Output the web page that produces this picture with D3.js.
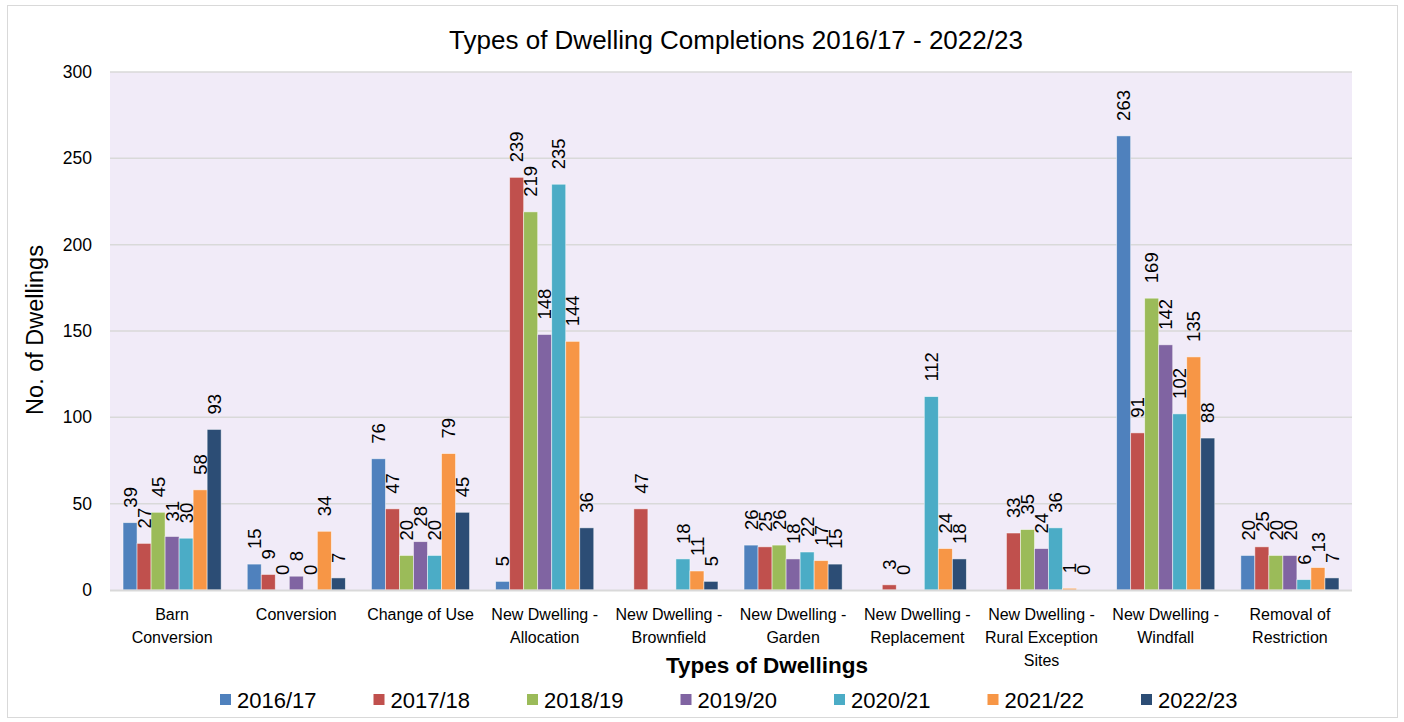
<!DOCTYPE html>
<html>
<head>
<meta charset="utf-8">
<script src="https://cdn.jsdelivr.net/npm/d3@7"></script>
<style>
  body { margin: 0; background: #fff; }
  svg { font-family: "Liberation Sans", Arial, sans-serif; }
</style>
</head>
<body>
<svg id="chart" width="1404" height="722"></svg>
<script>
// chart data
const categories = [
    "Barn Conversion", "Conversion", "Change of Use", "New Dwelling - Allocation",
    "New Dwelling - Brownfield", "New Dwelling - Garden", "New Dwelling - Replacement",
    "New Dwelling - Rural Exception Sites", "New Dwelling - Windfall", "Removal of Restriction"
];
const seriesNames = ["2016/17", "2017/18", "2018/19", "2019/20", "2020/21", "2021/22", "2022/23"];
const seriesColors = ["#4F81BD", "#C0504D", "#9BBB59", "#8064A2", "#4BACC6", "#F79646", "#2C4D75"];

// null = no bar and no label in the original
const v2016 = [39, 15, 76, 5, null, 26, null, null, 263, 20];
const v2017 = [27, 9, 47, 239, 47, 25, 3, 33, 91, 25];
const v2018 = [45, 0, 20, 219, null, 26, 0, 35, 169, 20];
const v2019 = [31, 8, 28, 148, null, 18, null, 24, 142, 20];
const v2020 = [30, 0, 20, 235, 18, 22, 112, 36, 102, 6];
const v2021 = [58, 34, 79, 144, 11, 17, 24, 1, 135, 13];
const v2022 = [93, 7, 45, 36, 5, 15, 18, 0, 88, 7];
const seriesValues = [v2016, v2017, v2018, v2019, v2020, v2021, v2022];

const yTicks = [0, 50, 100, 150, 200, 250, 300];

const svg = d3.select("#chart");

// outer border
svg.append("rect")
    .attr("x", 7.5).attr("y", 5.5)
    .attr("width", 1390).attr("height", 712)
    .attr("fill", "#fff")
    .attr("stroke", "#d9d9d9");

const plot = { left: 110, right: 1352, top: 72, bottom: 590 };

const x0 = d3.scaleBand()
    .domain(categories)
    .range([plot.left, plot.right])
    .padding(0);

const x1 = d3.scaleBand()
    .domain(seriesNames)
    .range([0, x0.bandwidth()])
    .paddingInner(0)
    .paddingOuter(0.93);

const y = d3.scaleLinear()
    .domain([0, 300])
    .range([plot.bottom, plot.top]);

// plot background
svg.append("rect")
    .attr("x", plot.left).attr("y", plot.top)
    .attr("width", plot.right - plot.left)
    .attr("height", plot.bottom - plot.top)
    .attr("fill", "#F1EBF8");

// gridlines
svg.append("g")
    .selectAll("line")
    .data(yTicks.filter(d => d > 0))
    .join("line")
    .attr("x1", plot.left).attr("x2", plot.right)
    .attr("y1", d => y(d)).attr("y2", d => y(d))
    .attr("stroke", "#d9d9d9")
    .attr("stroke-width", 1.5);

// y axis tick labels
const yAxis = svg.append("g")
    .attr("transform", `translate(${plot.left - 18},0)`)
    .call(d3.axisLeft(y).tickValues(yTicks).tickSize(0).tickPadding(0));
yAxis.select(".domain").remove();
yAxis.selectAll("text")
    .attr("font-size", 17.5)
    .attr("font-family", "Liberation Sans, Arial, sans-serif")
    .attr("fill", "#000");

// bars
const rows = [];
categories.forEach((c, i) => {
    seriesNames.forEach((s, j) => {
        const v = seriesValues[j][i];
        if (v !== null) rows.push({ cat: c, series: s, value: v, color: seriesColors[j] });
    });
});

svg.append("g")
    .selectAll("rect")
    .data(rows)
    .join("rect")
    .attr("x", d => x0(d.cat) + x1(d.series))
    .attr("y", d => y(d.value))
    .attr("width", x1.bandwidth())
    .attr("height", d => y(0) - y(d.value))
    .attr("fill", d => d.color)
    .attr("stroke", "#fff")
    .attr("stroke-opacity", 0.6)
    .attr("stroke-width", 0.8);

// baseline
svg.append("line")
    .attr("x1", plot.left).attr("x2", plot.right)
    .attr("y1", y(0) + 0.5).attr("y2", y(0) + 0.5)
    .attr("stroke", "#d9d9d9")
    .attr("stroke-width", 2);

// data labels, rotated
svg.append("g")
    .selectAll("text")
    .data(rows)
    .join("text")
    .attr("transform", d => {
        const cx = x0(d.cat) + x1(d.series) + x1.bandwidth() / 2;
        return `translate(${cx},${y(d.value) - 15}) rotate(-90)`;
    })
    .attr("dy", "0.36em")
    .attr("font-size", 18.5)
    .attr("fill", "#000")
    .text(d => d.value);

// category labels with wrapping
const catG = svg.append("g");
categories.forEach(c => {
    const words = c.split(" ");
    const lines = [];
    let cur = [];
    const probe = catG.append("text").attr("font-size", 16);
    words.forEach(w => {
        const test = cur.concat(w).join(" ");
        probe.text(test);
        if (cur.length && probe.node().getComputedTextLength() > 116) {
            lines.push(cur.join(" "));
            cur = [w];
        } else {
            cur.push(w);
        }
    });
    lines.push(cur.join(" "));
    probe.remove();
    catG.selectAll(null)
        .data(lines)
        .enter()
        .append("text")
        .attr("x", x0(c) + x0.bandwidth() / 2)
        .attr("y", (d, i) => 620 + i * 23)
        .attr("text-anchor", "middle")
        .attr("font-size", 16)
        .attr("fill", "#000")
        .text(d => d);
});

// title
svg.append("text")
    .attr("x", 736).attr("y", 49)
    .attr("text-anchor", "middle")
    .attr("font-size", 26)
    .attr("fill", "#000")
    .text("Types of Dwelling Completions 2016/17 - 2022/23");

// axis titles
svg.append("text")
    .attr("x", 767).attr("y", 673)
    .attr("text-anchor", "middle")
    .attr("font-size", 22.5)
    .attr("font-weight", "bold")
    .attr("fill", "#000")
    .text("Types of Dwellings");

svg.append("text")
    .attr("transform", "translate(43,330) rotate(-90)")
    .attr("text-anchor", "middle")
    .attr("font-size", 23.5)
    .attr("fill", "#000")
    .text("No. of Dwellings");

// legend
const legend = svg.append("g")
    .selectAll("g")
    .data(seriesNames)
    .join("g")
    .attr("transform", (d, i) => `translate(${220 + i * 153.5},700)`);

legend.append("rect")
    .attr("x", 0).attr("y", -6)
    .attr("width", 11).attr("height", 11)
    .attr("fill", (d, i) => seriesColors[i]);

legend.append("text")
    .attr("x", 17).attr("y", 0)
    .attr("dy", "0.35em")
    .attr("font-size", 22)
    .attr("fill", "#000")
    .text(d => d);
</script>
</body>
</html>
